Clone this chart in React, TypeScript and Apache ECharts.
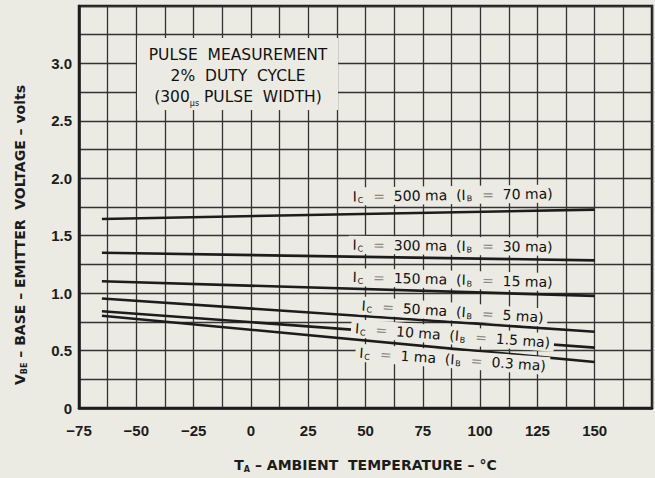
import React, { useEffect, useRef } from "react";
import * as echarts from "echarts";

// Data
const temps = [-65, 150];
const ic500 = [1.646, 1.727];
const ic300 = [1.352, 1.285];
const ic150 = [1.103, 0.976];
const ic50 = [0.953, 0.664];
const ic10 = [0.843, 0.526];
const ic1 = [0.803, 0.4];

const seriesValues = [ic500, ic300, ic150, ic50, ic10, ic1];
const icLabels = ["500", "300", "150", "50", "10", "1"];
const ibLabels = ["70", "30", "15", "5", "1.5", "0.3"];
// label anchors (data units)
const labelTemp = 88;
const labelVolt = [1.854, 1.412, 1.118, 0.84, 0.632, 0.424];
const labelRotate = [0.8, -0.6, -1.5, -3.8, -4.2, -4];

const xTicks = [-75, -50, -25, 0, 25, 50, 75, 100, 125, 150];
const yTicks = [0, 0.5, 1.0, 1.5, 2.0, 2.5, 3.0];

const BG = "#ebebe3";
const INK = "#1c1c1c";
const FONT = "'DejaVu Sans', sans-serif";
const TICKFONT = "'Liberation Sans', Arial, sans-serif";

export default function App() {
  const ref = useRef<HTMLDivElement>(null);
  useEffect(() => {
    if (!ref.current) return;
    const chart = echarts.init(ref.current, null, { renderer: "svg" });
    const richLabel = {
      m: { fontFamily: FONT, fontSize: 14, color: "#111", lineHeight: 16 },
      s: { fontFamily: FONT, fontSize: 8, color: "#111", verticalAlign: "bottom", lineHeight: 10, padding: [0, 1, 0, 1] },
      g: { fontFamily: FONT, fontSize: 14, color: "#8a8a85", lineHeight: 16 },
    };
    const series = seriesValues.map((vals, i) => ({
      type: "line",
      data: temps.map((t, j) => [t, vals[j]]),
      symbol: "none",
      silent: true,
      lineStyle: { color: INK, width: 2.6 },
      markPoint: {
        silent: true,
        symbol: "circle",
        symbolSize: 0,
        data: [{ coord: [labelTemp, labelVolt[i]] }],
        label: {
          show: true,
          position: "inside",
          rotate: labelRotate[i],
          backgroundColor: BG,
          padding: [1, 4, 1, 4],
          formatter: () =>
            `{m|I}{s|C}{g|  =  }{m|${icLabels[i]} ma  (I}{s|B}{g|  =  }{m|${ibLabels[i]} ma)}`,
          rich: richLabel,
        },
      },
    }));
    chart.setOption({
      animation: false,
      backgroundColor: BG,
      grid: {
        left: 79,
        right: 0,
        top: 6,
        bottom: 68,
        show: true,
        borderColor: INK,
        borderWidth: 2.5,
        backgroundColor: "transparent",
      },
      xAxis: {
        type: "value",
        min: -75,
        max: 175,
        interval: 12.5,
        axisLine: { show: true, onZero: false, lineStyle: { color: INK, width: 2.5 } },
        axisTick: { show: false },
        splitLine: { show: true, lineStyle: { color: "#333", width: 1.3 } },
        axisLabel: {
          margin: 15,
          fontFamily: TICKFONT,
          fontWeight: "bold",
          fontSize: 15,
          color: INK,
          formatter: (v: number) =>
            xTicks.includes(v) ? (v < 0 ? "\u2212" + Math.abs(v) : String(v)) : "",
        },
        name: "{m|T}{s|A}{m| \u2013 AMBIENT  TEMPERATURE \u2013 \u00b0C}",
        nameLocation: "middle",
        nameGap: 49,
        nameTextStyle: {
          rich: {
            m: { fontFamily: FONT, fontWeight: "bold", fontSize: 14, color: INK, lineHeight: 16 },
            s: { fontFamily: FONT, fontWeight: "bold", fontSize: 8, color: INK, verticalAlign: "bottom", lineHeight: 10 },
          },
        },
      },
      yAxis: {
        type: "value",
        min: 0,
        max: 3.5,
        interval: 0.25,
        axisLine: { show: true, onZero: false, lineStyle: { color: INK, width: 2.5 } },
        axisTick: { show: false },
        splitLine: { show: true, lineStyle: { color: "#333", width: 1.3 } },
        axisLabel: {
          margin: 7,
          fontFamily: TICKFONT,
          fontWeight: "bold",
          fontSize: 15,
          color: INK,
          formatter: (v: number) => {
            const t = yTicks.find((y) => Math.abs(y - v) < 1e-6);
            if (t === undefined) return "";
            return t === 0 ? "0" : t.toFixed(1);
          },
        },
      },
      graphic: [
        {
          type: "rect",
          z: 100,
          silent: true,
          shape: { x: 137, y: 38, width: 201, height: 72 },
          style: { fill: BG },
        },
        {
          type: "text",
          z: 101,
          silent: true,
          x: 238,
          y: 76,
          style: {
            text: "{m|PULSE  MEASUREMENT}\n{m|2%  DUTY  CYCLE}\n{m|(300}{s|\u00b5s}{m| PULSE  WIDTH)}",
            textAlign: "center",
            textVerticalAlign: "middle",
            align: "center",
            verticalAlign: "middle",
            rich: {
              m: { fontFamily: FONT, fontSize: 15.5, fill: "#111", lineHeight: 21 },
              s: { fontFamily: FONT, fontSize: 8, fill: "#111", lineHeight: 21, verticalAlign: "bottom" },
            },
          },
        },
        {
          type: "text",
          z: 101,
          silent: true,
          x: 20,
          y: 235,
          rotation: Math.PI / 2,
          style: {
            text: "{m|V}{s|BE}{m| \u2013 BASE \u2013 EMITTER  VOLTAGE \u2013 volts}",
            textAlign: "center",
            textVerticalAlign: "middle",
            align: "center",
            verticalAlign: "middle",
            rich: {
              m: { fontFamily: FONT, fontWeight: "bold", fontSize: 14, fill: INK, lineHeight: 16 },
              s: { fontFamily: FONT, fontWeight: "bold", fontSize: 8, fill: INK, lineHeight: 10, verticalAlign: "bottom" },
            },
          },
        },
      ],
      series,
    });
    return () => chart.dispose();
  }, []);
  return (
    <div
      ref={ref}
      style={{ position: "absolute", left: 0, top: 0, width: 655, height: 478 }}
    />
  );
}
